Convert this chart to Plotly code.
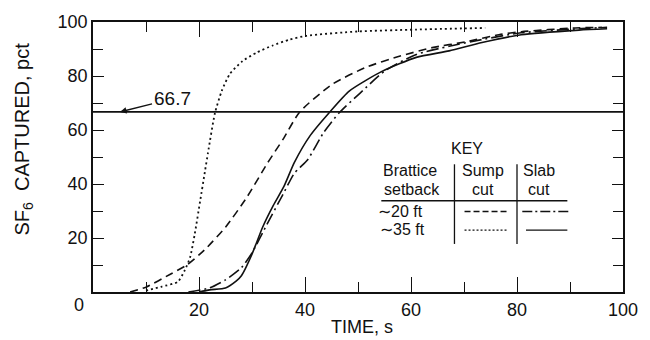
import plotly.graph_objects as go

# ---- data ----
dashed_x = [7, 10, 14.5, 17.7, 21, 25, 29, 33, 36, 39, 45.2, 51.6, 57.8, 64, 70.4, 76.6, 80.8, 91, 96]
dashed_y = [0, 1.8, 6.5, 10, 15.5, 24, 35, 48, 57, 66.7, 77, 83.3, 87.3, 90.5, 92.7, 95.3, 96.4, 97.8, 98]

dotted_x = [10, 13, 16, 17.3, 18.3, 19.2, 20.2, 21.1, 21.7, 23, 24.3, 25.8, 28.2, 30.9, 33.9, 37.1, 40.3, 50, 61, 74]
dotted_y = [0.5, 2, 3.8, 8, 12.7, 21.5, 33.5, 44.4, 51.6, 66.2, 74.5, 80.7, 85.5, 88.7, 91.3, 93.5, 94.9, 96.5, 97.2, 97.8]

dashdot_x = [18, 22, 25, 28, 30, 32.8, 35.8, 38, 40.5, 43.5, 46.5, 50.3, 55, 61, 67.2, 73.4, 80.8, 91.7, 97]
dashdot_y = [0, 1.5, 4.5, 9, 14.5, 25, 36, 44, 49, 59, 66.5, 73.5, 81.8, 88, 91, 93.5, 96, 97.5, 98]

solid_x = [20, 22, 25, 27, 28, 30, 32, 34, 36, 38, 41, 44.6, 48.4, 54.6, 61, 67.2, 73.4, 80.8, 91.7, 97]
solid_y = [0, 0.8, 1.5, 4, 6, 14, 24, 32, 39, 48, 58, 66.5, 74.5, 81.8, 86.9, 89.3, 92.4, 95.3, 97, 97.5]

threshold = 66.7
x_ticks = [20, 40, 60, 80, 100]
x_ticktext = ["20", "40", "60", "80", "100"]
y_ticks = [20, 40, 60, 80, 100]
y_ticktext = ["20", "40", "60", "80", "100"]

FONT = "Liberation Sans"
BLACK = "#111111"

fig = go.Figure()

def add_curve(x, y, dash, width=1.6):
    fig.add_trace(go.Scatter(x=x, y=y, mode="lines",
                             line=dict(color=BLACK, width=width, dash=dash, shape="spline", smoothing=0.6),
                             showlegend=False, hoverinfo="skip"))

add_curve(dashed_x, dashed_y, "8px,5px")
add_curve(dotted_x, dotted_y, "2px,3px", 1.8)
add_curve(dashdot_x, dashdot_y, "12px,4px,2px,4px")
add_curve(solid_x, solid_y, "solid")

shapes = []
# 66.7 % line
shapes.append(dict(type="line", xref="x", yref="y", x0=0, x1=100, y0=threshold, y1=threshold,
                   line=dict(color=BLACK, width=1.6)))
# key table lines
shapes.append(dict(type="line", xref="x", yref="y", x0=54.4, x1=89.5, y0=33.8, y1=33.8,
                   line=dict(color=BLACK, width=1.3)))
for xv in (68.2, 80.0):
    shapes.append(dict(type="line", xref="x", yref="y", x0=xv, x1=xv, y0=17.8, y1=47.3,
                       line=dict(color=BLACK, width=1.3)))
# key samples
shapes.append(dict(type="line", xref="x", yref="y", x0=70.1, x1=78.5, y0=29.8, y1=29.8,
                   line=dict(color=BLACK, width=1.4, dash="6px,3px")))
shapes.append(dict(type="line", xref="x", yref="y", x0=70.1, x1=78.3, y0=22.9, y1=22.9,
                   line=dict(color=BLACK, width=1.4, dash="2px,2px")))
shapes.append(dict(type="line", xref="x", yref="y", x0=81.0, x1=89.8, y0=29.8, y1=29.8,
                   line=dict(color=BLACK, width=1.4, dash="10px,3px,2px,3px")))
shapes.append(dict(type="line", xref="x", yref="y", x0=81.7, x1=89.5, y0=22.9, y1=22.9,
                   line=dict(color=BLACK, width=1.4)))

annotations = []
def txt(x, y, t, size=16, xref="x", yref="y", angle=0):
    annotations.append(dict(x=x, y=y, xref=xref, yref=yref, text=t, showarrow=False,
                            textangle=angle, xanchor="center", yanchor="middle", borderpad=0,
                            font=dict(family=FONT, size=size, color=BLACK)))

txt(70.6, 53.0, "KEY")
txt(59.9, 45.0, "Brattice")
txt(60.1, 38.0, "setback")
txt(73.6, 45.0, "Sump")
txt(73.6, 38.0, "cut")
txt(84.1, 45.0, "Slab")
txt(84.1, 38.0, "cut")
txt(58.0, 30.0, "\u223c20 ft")
txt(58.4, 23.0, "\u223c35 ft")

# 66.7 label with arrow
annotations.append(dict(x=5.1, y=threshold, xref="x", yref="y", text="66.7",
                        showarrow=True, arrowhead=2, arrowsize=1, arrowwidth=1.3, arrowcolor=BLACK,
                        ax=52, ay=-13, xanchor="center", yanchor="middle",
                        font=dict(family=FONT, size=19, color=BLACK)))

# axis titles and the shifted "0" label
txt(-0.026, -0.047, "0", size=18, xref="paper", yref="paper")
txt(0.508, -0.131, "TIME, s", size=18, xref="paper", yref="paper")
txt(-0.132, 0.565, "SF<sub>6</sub>\u00a0\u00a0CAPTURED, pct", size=20, xref="paper", yref="paper", angle=-90)

axis_common = dict(showline=True, linecolor=BLACK, linewidth=1.8, mirror="ticks",
                   ticks="inside", tickcolor=BLACK, tickwidth=1.3, showgrid=False, zeroline=False,
                   tickfont=dict(family=FONT, size=18, color=BLACK))

fig.update_layout(
    width=650, height=340,
    margin=dict(l=93, r=26, t=17, b=48),
    paper_bgcolor="white", plot_bgcolor="white",
    xaxis=dict(range=[0, 100], tickmode="array", tickvals=x_ticks, ticktext=x_ticktext,
               ticklen=15, minor=dict(ticks="inside", ticklen=10, dtick=10, tick0=0,
                                      tickcolor=BLACK, tickwidth=1.2), **axis_common),
    yaxis=dict(range=[0, 100], tickmode="array", tickvals=y_ticks, ticktext=y_ticktext,
               ticklen=11, minor=dict(ticks="inside", ticklen=10, dtick=10, tick0=0,
                                      tickcolor=BLACK, tickwidth=1.2), **axis_common),
    shapes=shapes, annotations=annotations,
)

fig.write_html("out.html")
